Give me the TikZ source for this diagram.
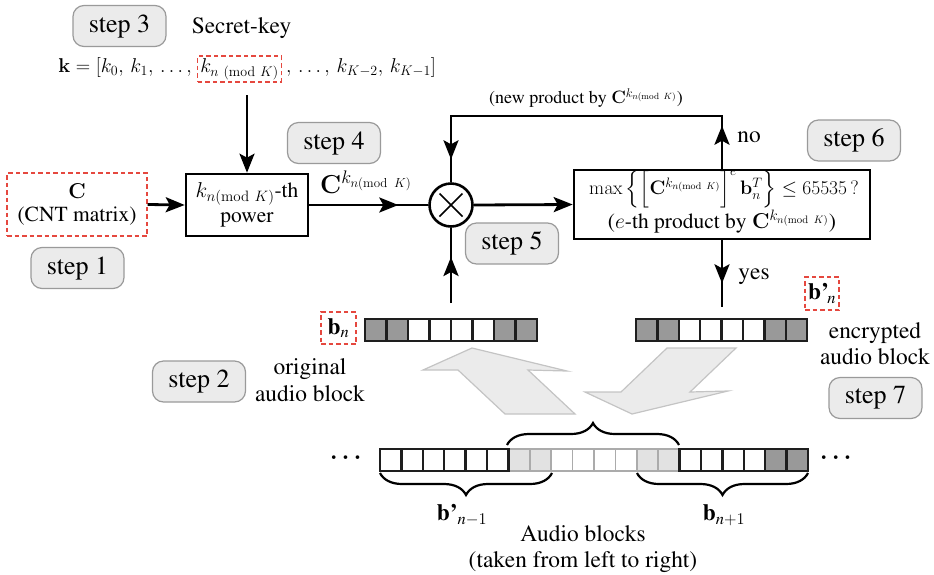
\RequirePackage{fix-cm}
\documentclass[tikz,border=0pt]{standalone}
\usepackage{amsmath}
\usetikzlibrary{arrows.meta,decorations.pathreplacing,decorations.markings,calc}

% Text face: Times (Type 1) when its metrics are installed, Computer Modern otherwise
\suppressfontnotfounderror=1
\font\ptmprobe=ptmr7t at 10pt
\ifx\ptmprobe\nullfont \def\textfam{cmr}\else \def\textfam{ptm}\fi
\suppressfontnotfounderror=0

\definecolor{stepfill}{HTML}{EBEBEB}
\definecolor{stepline}{HTML}{9A9A9A}
\definecolor{keyred}{HTML}{E5483F}
\definecolor{cellgray}{HTML}{999999}
\definecolor{celledge}{HTML}{1E1E1E}
\definecolor{lightcell}{HTML}{E2E2E2}
\definecolor{lightline}{HTML}{ABABAB}
\definecolor{bigfill}{HTML}{EBEBEB}
\definecolor{bigline}{HTML}{C4C4C4}

\newcommand{\kexp}{k_{n(\mathrm{mod}\ K)}}
\newcommand{\tsize}[1]{\fontencoding{OT1}\fontfamily{\textfam}\fontseries{m}\fontshape{n}%
  \fontsize{#1}{1.13\dimexpr#1pt\relax}\selectfont}

\tikzset{
  >={Stealth[length=19pt,width=15pt,inset=4pt]},
  stepbox/.style={draw=stepline, fill=stepfill, rounded corners=11pt, line width=1.2pt,
    minimum width=93pt, minimum height=41pt, inner sep=0pt, font=\tsize{26}},
  keybox/.style={draw=keyred, dash pattern=on 4.5pt off 3pt, line width=1.4pt},
  procbox/.style={draw, line width=2.6pt, inner sep=0pt},
  conn/.style={line width=2.8pt},
  midarrow/.style={decoration={markings, mark=at position #1 with {\arrow{>}}}, postaction={decorate}},
  cell/.style={draw=celledge, line width=2.4pt},
  softcell/.style={draw=lightline, line width=1.6pt},
  bigarrow/.style={fill=bigfill, draw=bigline, line width=1.2pt, line join=miter},
  curly/.style={decorate, decoration={brace, amplitude=22pt}, line width=2.2pt},
}

\begin{document}
\begin{tikzpicture}[x=1pt, y=-1pt, font=\tsize{23.4}]
\useasboundingbox (0,0) rectangle (934,574);

% secret key
\node[stepbox] (s3) at (119.5,26) {step 3};
\node[anchor=base] (sk) at (241.5,33) {Secret-key};
\node[keybox, inner sep=2.5pt, font=\tsize{20}] (kn) at (239.5,69) {$k_{n\ (\mathrm{mod}\ K)}$};
\node[anchor=base east, inner sep=0pt, font=\tsize{20}] (kl) at ([xshift=-5pt]kn.base west) {$\mathbf{k}=[k_0,\,k_1,\,\ldots,$};
\node[anchor=base west, inner sep=0pt, font=\tsize{20}] (kr) at ([xshift=4pt]kn.base east) {$,\,\ldots,\,k_{K-2},\,k_{K-1}]$};
\coordinate (kdrop) at (247,95);

% power and matrix
\node[procbox, minimum width=122pt, minimum height=62pt, align=center, font=\tsize{21.5}] (pw) at (247,205) {$\kexp$-th\\power};
\node[keybox, minimum width=140pt, minimum height=63pt, inner sep=0pt, align=center, font=\tsize{21.5}] (cm) at (77,204.5) {$\mathbf{C}$\\[-2pt](CNT matrix)};
\node[stepbox] (s1) at (77.5,268) {step 1};
\node[stepbox] (s4) at (334,143) {step 4};
\node[font=\tsize{26}] (cpow) at (366,182) {$\mathbf{C}^{\kexp}$};

\draw[conn,->] (kdrop) -- (pw.north);
\draw[conn,->] (cm.east) -- (pw.west);

% multiplier
\node[circle, draw, line width=2.6pt, minimum size=43pt, inner sep=0pt] (mul) at (451,205) {};
\draw[line width=1.7pt] ($(mul)+(-11.5,-11.5)$) -- ($(mul)+(11.5,11.5)$)
                        ($(mul)+(-11.5,11.5)$) -- ($(mul)+(11.5,-11.5)$);
\draw[conn, midarrow=89pt] (pw.east) -- (mul.west);

% decision
\node[procbox, minimum width=296pt, minimum height=69pt] (dec) at (722,204.5) {};
\node[font=\tsize{19.5}] (dec1) at (724,189) {$\max\Big\{\Big[\mathbf{C}^{\kexp}\Big]^e\,\mathbf{b}_n^T\Big\}\le 65535\,?$};
\node[font=\tsize{21.5}] (dec2) at (722,222) {($e$-th product by $\mathbf{C}^{\kexp}$)};
\draw[conn,->] (mul.east) -- (dec.west);

\coordinate (loopR) at (722,116);
\coordinate (loopL) at (451,116);
\draw[conn, decoration={markings, mark=at position 43pt with {\arrow{>}}, mark=at position 367pt with {\arrow{>}}}, postaction={decorate}]
  (dec.north) -- (loopR) -- (loopL) -- (mul.north);
\node[font=\tsize{18}] (np) at (586,98) {(new product by $\mathbf{C}^{\kexp}$)};
\node (no) at (749,137) {no};
\node[stepbox] (s6) at (854,140.5) {step 6};
\node[stepbox] (s5) at (512,243.5) {step 5};

\coordinate (bup) at (451,303);
\draw[conn, midarrow=46pt] (bup) -- (mul.south);
\coordinate (ydown) at (722,307);
\draw[conn, midarrow=43pt] (dec.south) -- (ydown);
\node (yes) at (754,277) {yes};

% block labels
\node[keybox, minimum width=34pt, minimum height=33pt, inner sep=0pt] (bpn) at (822,293.5) {$\textbf{b'}_{\kern-1.5pt\textit{n}}$};
\node[keybox, minimum width=35pt, minimum height=32pt, inner sep=0pt] (bn) at (338.5,328) {$\textbf{b}_{\textit{n}}$};

% original and encrypted blocks
\foreach \f [count=\i from 0] in {cellgray,cellgray,white,white,white,white,cellgray,cellgray}
  \draw[cell, fill=\f] (365+\i*21.5,319) rectangle ++(21.5,22);
\foreach \f [count=\i from 0] in {cellgray,cellgray,white,white,white,white,cellgray,cellgray}
  \draw[cell, fill=\f] (636+\i*21.4,319) rectangle ++(21.4,22);

\node[align=center] (orig) at (310,380) {original\\audio block};
\node[stepbox] (s2) at (199,381.5) {step 2};
\node[align=center] (enc) at (875,343.5) {encrypted\\audio block};
\node[stepbox] (s7) at (875.5,398) {step 7};

% wide gray arrows
\draw[bigarrow] (472,348) -- (567,371) -- (528,370) -- (575,414) -- (505,414) -- (458,370) -- (423,370) -- cycle;
\draw[bigarrow] (667,348) -- (736,348) -- (690,392) -- (728,391) -- (632,414) -- (585,392) -- (621,392) -- cycle;

% audio stream
\foreach \f [count=\i from 6] in {lightcell,lightcell,white,white,white,white,lightcell,lightcell}
  \draw[softcell, fill=\f] (380+\i*21.4,449) rectangle ++(21.4,22);
\foreach \i in {0,...,5}
  \draw[cell, fill=white] (380+\i*21.4,449) rectangle ++(21.4,22);
\foreach \f [count=\i from 14] in {white,white,white,white,cellgray,cellgray}
  \draw[cell, fill=\f] (380+\i*21.4,449) rectangle ++(21.4,22);

\node (dotl) at (348,458) {$\boldsymbol{\cdots}$};
\node (dotr) at (838,458) {$\boldsymbol{\cdots}$};

\draw[curly] (507,445) -- (679,445);
\draw[curly] (552,473) -- (380,473);
\draw[curly] (808,473) -- (637,473);

\node (bprev) at (462,515) {$\textbf{b'}_{\textit{n}-\textrm{1}}$};
\node (bnext) at (724,515) {$\textbf{b}_{\textit{n}+\textrm{1}}$};
\node[align=center] (ab) at (583,549) {Audio blocks\\(taken from left to right)};
\end{tikzpicture}
\end{document}
